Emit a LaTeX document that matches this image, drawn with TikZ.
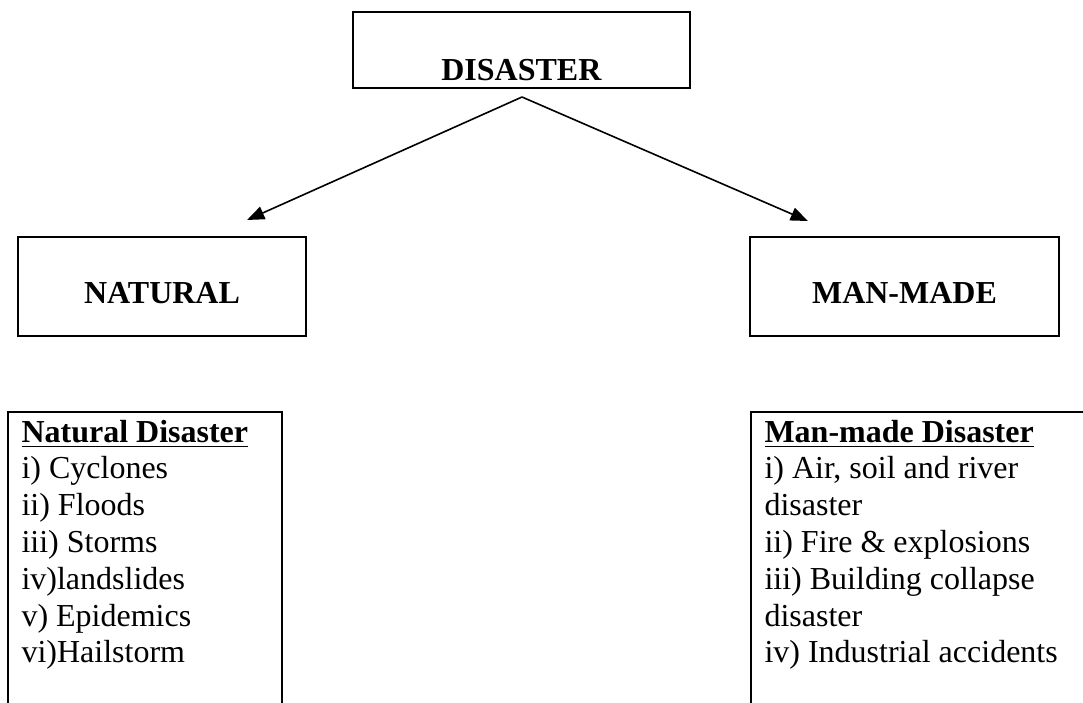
\documentclass[tikz,border=0pt]{standalone}
\usepackage{fontspec}
\setmainfont{Liberation Serif}
\usepackage{tikz}
\usetikzlibrary{positioning, arrows, arrows.meta}

\begin{document}
\begin{tikzpicture}[x=0.375pt, y=-0.375pt, every node/.style={font=\fontsize{12}{13.8}\selectfont}]

% --- Frame of the page ---
\useasboundingbox (0,0) rectangle (1083,702);
\clip (0,0) rectangle (1083,702);

% --- Top box ---
\node[draw, line width=0.75pt, inner sep=0pt, minimum width=126.4pt, minimum height=28.5pt, text height=24pt, text depth=1.5pt] (disaster) at (521.5, 50) {\textbf{DISASTER}};

% --- Second row boxes ---
\node[draw, line width=0.75pt, inner sep=0pt, minimum width=108pt, minimum height=37.1pt, text height=14.6pt, text depth=1.5pt] (natural) at (162, 286.5) {\textbf{NATURAL}};
\node[draw, line width=0.75pt, inner sep=0pt, minimum width=115.9pt, minimum height=37.1pt, text height=14.6pt, text depth=1.5pt] (manmade) at (904.5, 286.5) {\textbf{MAN-MADE}};

% --- Arrows from the top box ---
\coordinate (fork) at (522, 97);
\coordinate (natTip) at (247, 220);
\coordinate (manTip) at (808, 221);
\draw[line width=0.6pt, -{Triangle[length=6.5pt, width=5pt]}] (fork) -- (natTip);
\draw[line width=0.6pt, -{Triangle[length=6.5pt, width=5pt]}] (fork) -- (manTip);

% --- Lists (boxes run off the page) ---
\node[draw, line width=0.75pt, anchor=north west, inner sep=0pt, minimum width=102.75pt, minimum height=120pt] (natBox) at (7, 411) {};
\node[draw, line width=0.75pt, anchor=north west, inner sep=0pt, minimum width=135pt, minimum height=120pt] (manBox) at (750, 411) {};

% base of a multi-line node is its last line
\node[anchor=base west, align=left, inner sep=0pt] (natList) at (21, 662.8)
  {\underline{\textbf{Natural Disaster}}\\ i) Cyclones\\ ii) Floods\\ iii) Storms\\ iv)landslides\\ v) Epidemics\\ vi)Hailstorm};
\node[anchor=base west, align=left, inner sep=0pt] (manList) at (764, 662.8)
  {\underline{\textbf{Man-made Disaster}}\\ i) Air, soil and river\\ disaster\\ ii) Fire \& explosions\\ iii) Building collapse\\ disaster\\ iv) Industrial accidents};

\end{tikzpicture}
\end{document}
